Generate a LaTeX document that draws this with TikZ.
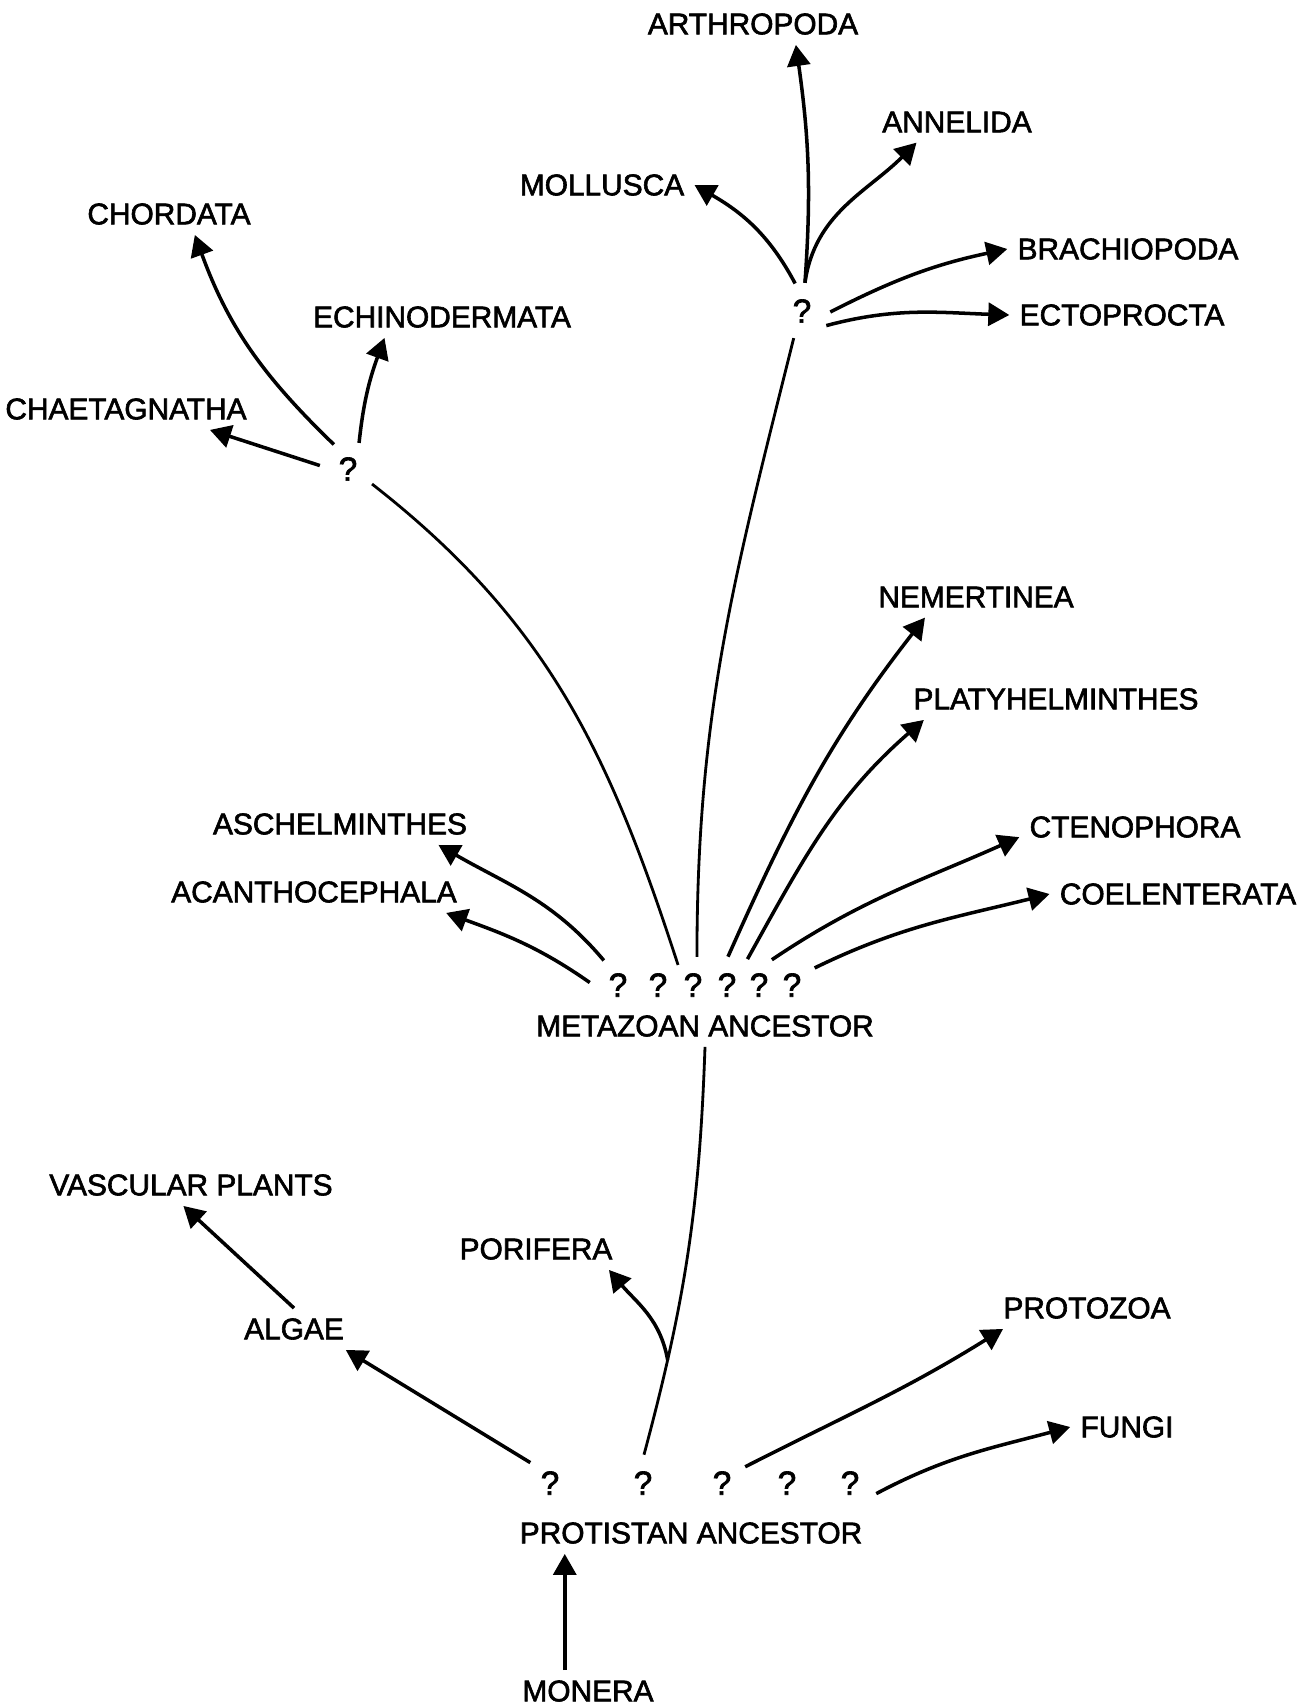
\documentclass[tikz,border=0pt]{standalone}
\usepackage{fontspec}
\setmainfont{Liberation Sans}[FakeBold=2]
\usetikzlibrary{arrows.meta}

\begin{document}
\begin{tikzpicture}[x=0.02cm, y=-0.02cm, >={Triangle[length=4.2mm, width=4.6mm]},
    taxon/.style={inner sep=2mm, font=\fontsize{17}{20}\selectfont},
    unknown/.style={circle, inner sep=0pt, minimum size=11.2mm, font=\fontsize{19}{22}\selectfont},
    branch/.style={->, line width=2pt},
    stem/.style={line width=1.6pt}]
    \useasboundingbox (0,0) rectangle (1313,1707);

    % Nodes
    \node[taxon] (arth) at (753,24) {ARTHROPODA};
    \node[taxon] (annel) at (957,122) {ANNELIDA};
    \node[taxon] (moll) at (602,185) {MOLLUSCA};
    \node[taxon] (chord) at (169,214) {CHORDATA};
    \node[taxon] (brach) at (1128,249) {BRACHIOPODA};
    \node[taxon] (ecto) at (1122,315) {ECTOPROCTA};
    \node[taxon] (echin) at (442,317) {ECHINODERMATA};
    \node[taxon] (chaet) at (126,409) {CHAETAGNATHA};
    \node[taxon] (nem) at (976,597) {NEMERTINEA};
    \node[taxon] (platy) at (1056,699) {PLATYHELMINTHES};
    \node[taxon] (asch) at (340,824) {ASCHELMINTHES};
    \node[taxon] (cten) at (1135,827) {CTENOPHORA};
    \node[taxon] (acan) at (314,892) {ACANTHOCEPHALA};
    \node[taxon] (coel) at (1178,894) {COELENTERATA};
    \node[taxon] (meta) at (705,1026) {METAZOAN ANCESTOR};
    \node[taxon] (vasc) at (191,1185) {VASCULAR PLANTS};
    \node[taxon] (pori) at (536,1249) {PORIFERA};
    \node[taxon] (algae) at (294,1329) {ALGAE};
    \node[taxon] (protoz) at (1087,1308) {PROTOZOA};
    \node[taxon] (fungi) at (1127,1427) {FUNGI};
    \node[taxon] (prot) at (691,1533) {PROTISTAN ANCESTOR};
    \node[taxon] (mon) at (588,1691) {MONERA};

    \node[unknown] (t) at (802,311) {?};
    \node[unknown] (l) at (348,469) {?};
    \node[unknown] (m1) at (618,985) {?};
    \node[unknown] (m2) at (658,985) {?};
    \node[unknown] (m3) at (693,985) {?};
    \node[unknown] (m4) at (727,985) {?};
    \node[unknown] (m5) at (759,985) {?};
    \node[unknown] (m6) at (792,985) {?};
    \node[unknown] (p1) at (550,1483) {?};
    \node[unknown] (p2) at (643,1483) {?};
    \node[unknown] (p3) at (722,1483) {?};
    \node[unknown] (p4) at (787,1483) {?};
    \node[unknown] (p5) at (850,1483) {?};

    % Edges
    \draw[branch] (mon.138) -- (mon.138 |- prot.south);
    \draw[branch] (p1.134) -- (algae.-22);
    \draw[branch] (algae.north) -- (vasc.250);
    \draw[stem] (p2.88) to[out=75, in=-92] coordinate[pos=0.22] (split) (meta.south);
    \draw[branch] (split) to[out=100, in=-50] (pori.-16);
    \draw[branch] (p3.35) to[out=27, in=-148] (protoz.194);
    \draw[branch] (p5.-22) to[out=28, in=-165] (fungi.west);

    \draw[branch] (m1.175) to[out=145, in=-20] (acan.-9);
    \draw[branch] (m1.120) to[out=130, in=-30] (asch.-12);
    \draw[stem] (m2.45) to[out=108, in=-38] (l.-32);
    \draw[stem] (m3.82) to[out=90, in=-104] (t.-107);
    \draw[branch] (m4.88) to[out=66, in=-128] (nem.202);
    \draw[branch] (m5.114) to[out=61, in=-139] (platy.189.5);
    \draw[branch] (m5.63) to[out=34, in=-156] (cten.185);
    \draw[branch] (m6.37) to[out=26, in=-166] (coel.west);

    \draw[branch] (l.173) -- (chaet.-14);
    \draw[branch] (l.120) to[out=136, in=-70] (chord.-39);
    \draw[branch] (l.67) to[out=84, in=-110] (echin.200);

    \draw[branch] (t.104) to[out=118, in=-30] (moll.east);
    \draw[branch] (t.84) to[out=86, in=-82] (arth.-26);
    \draw[branch] (t.84) to[out=82, in=-135] (annel.207);
    \draw[branch] (t.-2) to[out=27, in=-168] (brach.west);
    \draw[branch] (t.-31) to[out=15, in=178] (ecto.west);
\end{tikzpicture}
\end{document}
